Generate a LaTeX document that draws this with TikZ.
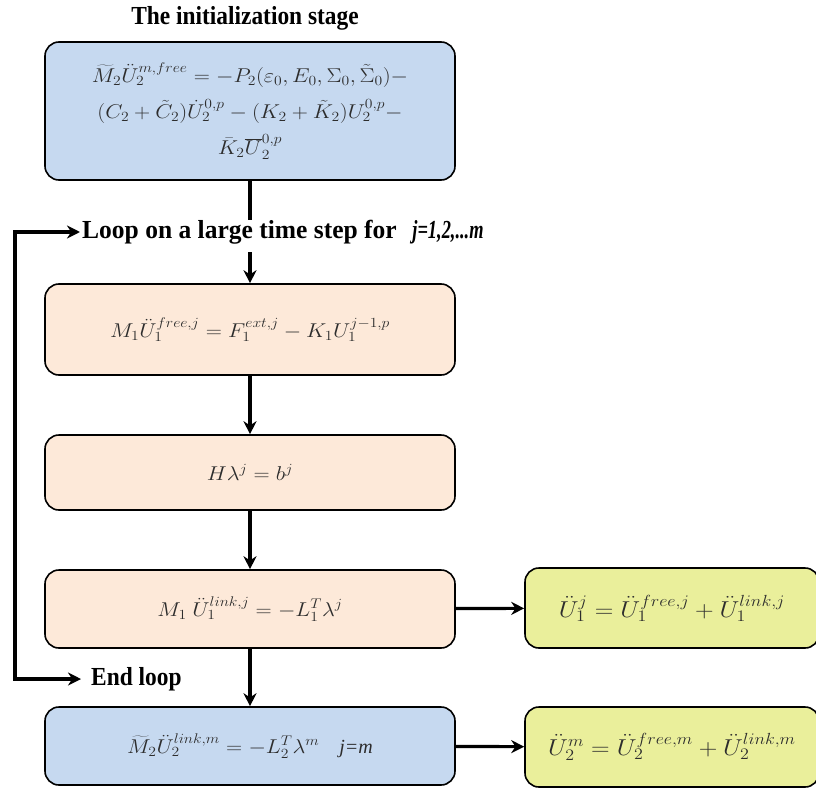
\RequirePackage{fix-cm}
\documentclass[tikz,border=0pt]{standalone}
\usepackage{fontspec}
\setmainfont{Liberation Serif}
\usetikzlibrary{arrows.meta}
\definecolor{boxblue}{RGB}{198,217,240}
\definecolor{boxpeach}{RGB}{253,233,217}
\definecolor{boxyellow}{RGB}{234,239,155}
\definecolor{eqtext}{RGB}{45,45,45}
\newcommand{\eqn}[1]{\scalebox{1.12}[1]{$#1$}}
\begin{document}
\begin{tikzpicture}[x=1pt,y=-1pt,
  box/.style={draw=black,line width=1.6pt,rounded corners=14pt,inner sep=4pt,
    text=eqtext,font=\fontsize{20}{36}\selectfont,align=center},
  bluebox/.style={box,fill=boxblue},
  peachbox/.style={box,fill=boxpeach},
  yellowbox/.style={box,fill=boxyellow,font=\fontsize{23}{36}\selectfont},
  lbl/.style={font=\fontsize{26}{30}\selectfont\bfseries,inner sep=0pt,xscale=0.9},
  conn/.style={line width=3.2pt},
  arr/.style={conn,-{Stealth[length=13pt,width=13pt]}}]
\useasboundingbox (0,0) rectangle (816,789);

\node[lbl] (title) at (245,18) {The initialization stage};

\node[bluebox,minimum width=410pt,minimum height=138pt] (init) at (250,111)
  {\eqn{\widetilde{M}_2\ddot{U}_2^{m,free}=-P_2\big(\varepsilon_0,E_0,\Sigma_0,\tilde{\Sigma}_0\big)-}\\
   \eqn{\big(C_2+\tilde{C}_2\big)\dot{U}_2^{0,p}-\big(K_2+\tilde{K}_2\big)U_2^{0,p}-}\\
   \eqn{\bar{K}_2\overline{U}_2^{0,p}}};

\node[lbl,xscale=1.09,anchor=west] (loop) at (82,232)
  {Loop on a large time step for\hspace{16pt}\scalebox{0.72}[1]{\textit{j=1,2,...m}}};

\node[peachbox,minimum width=410pt,minimum height=91pt] (free) at (250,329.5)
  {\eqn{M_1\ddot{U}_1^{free,j}=F_1^{ext,j}-K_1U_1^{j-1,p}}};

\node[peachbox,minimum width=410pt,minimum height=75pt] (lam) at (250,472.5)
  {\eqn{H\lambda^j=b^j}};

\node[peachbox,minimum width=410pt,minimum height=78pt] (link) at (250,609)
  {\eqn{M_1\ \ddot{U}_1^{link,j}=-L_1^T\lambda^j}};

\node[lbl,anchor=west] (endloop) at (91,679) {End loop};

\node[bluebox,minimum width=410pt,minimum height=78pt] (final) at (250,746)
  {\eqn{\widetilde{M}_2\ddot{U}_2^{link,m}=-L_2^T\lambda^m}\quad\textit{j=m}};

\node[yellowbox,minimum width=294pt,minimum height=80pt] (sum1) at (672,608)
  {\eqn{\ddot{U}_1^j=\ddot{U}_1^{free,j}+\ddot{U}_1^{link,j}}};

\node[yellowbox,minimum width=294pt,minimum height=80pt] (sum2) at (672,747)
  {\eqn{\ddot{U}_2^m=\ddot{U}_2^{free,m}+\ddot{U}_2^{link,m}}};

\coordinate (lp) at (15,450);

\draw[conn] (init.south) -- (init.south |- loop.north);
\draw[arr] (init.south |- loop.south) ++(0,8) -- (free.north);
\draw[arr] (free) -- (lam);
\draw[arr] (lam) -- (link);
\draw[arr] (link) -- (final);
\draw[arr] (link) -- (sum1);
\draw[arr] (final) -- (sum2);
\draw[arr] (lp) |- ([xshift=-2pt]loop.west);
\draw[arr] (lp) |- ([xshift=-10pt]endloop.west);
\end{tikzpicture}
\end{document}
